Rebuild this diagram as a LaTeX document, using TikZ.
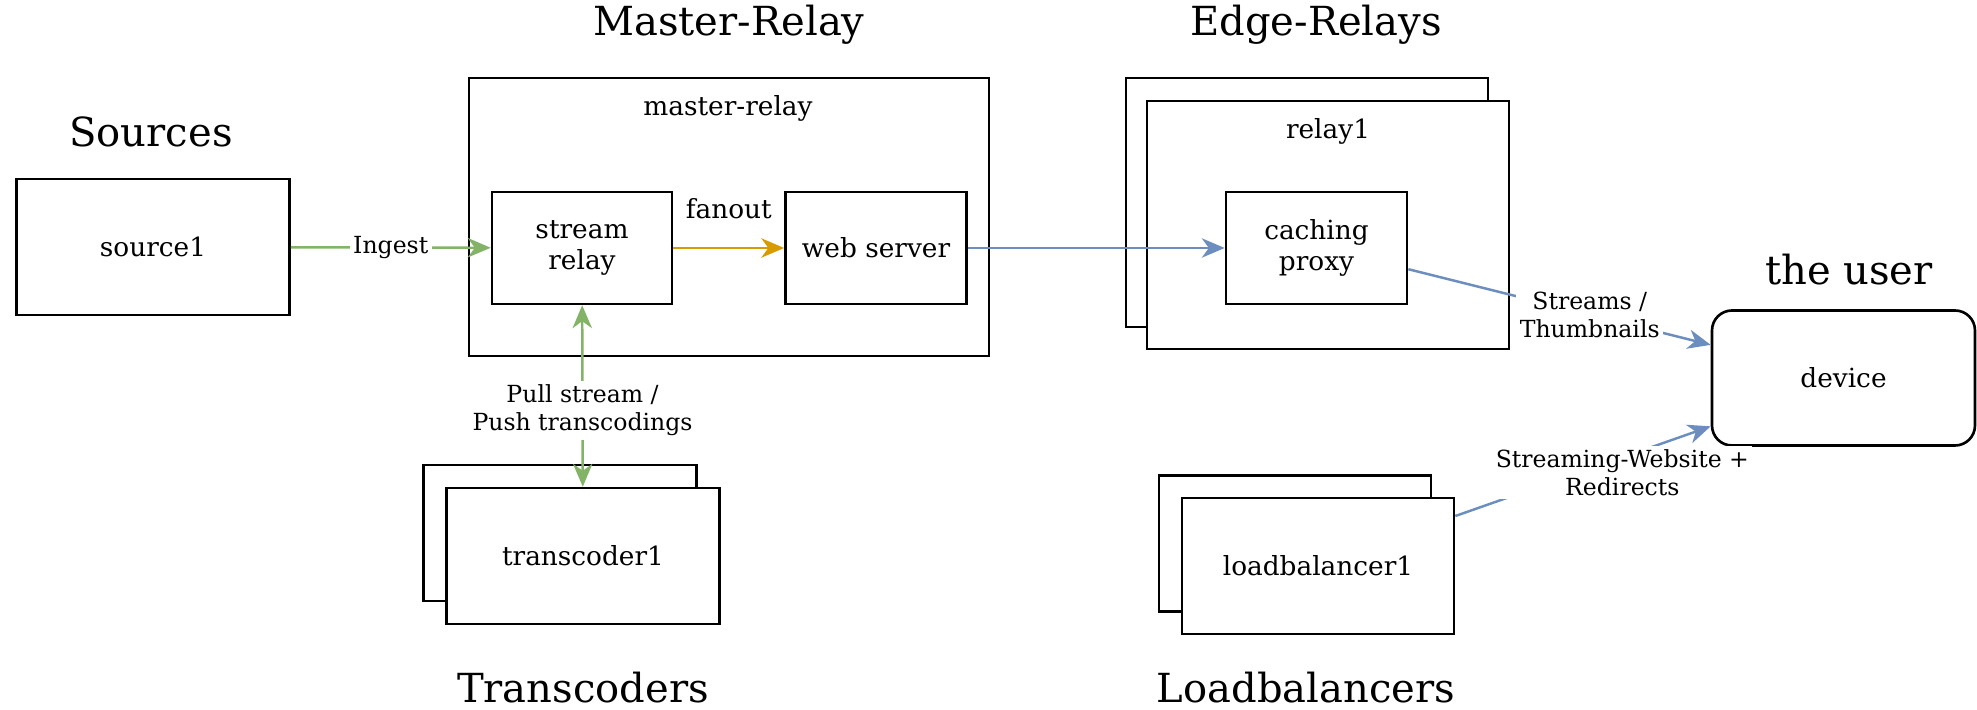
\documentclass[tikz,border=0pt]{standalone}
\usepackage{fontspec}
\setmainfont{DejaVu Serif}
\usetikzlibrary{arrows.meta, shapes, positioning}

\definecolor{ingestgreen}{HTML}{82B366}
\definecolor{fanoutorange}{HTML}{D79B00}
\definecolor{streamblue}{HTML}{6C8EBF}

\begin{document}
\begin{tikzpicture}[
        box/.style={draw, fill=white, line width=0.75pt, align=center, inner sep=0pt,
            font=\fontsize{7.5}{9}\selectfont},
        title/.style={inner sep=0pt, font=\fontsize{11.4}{13}\selectfont},
        lbl/.style={fill=white, inner sep=1pt, align=center,
            font=\fontsize{6.7}{8}\selectfont},
        tip/.style={-{Stealth[length=6.5pt, width=5.5pt, inset=2pt]}},
        flow/.style={line width=0.7pt, tip}
    ]
            \useasboundingbox (0,0) rectangle (19.77,7.10);

            % group titles
            \node[title] (sources title) at (1.51, 5.78) {Sources};
            \node[title] (master title) at (7.29, 6.85) {Master-Relay};
            \node[title] (edge title) at (13.16, 6.85) {Edge-Relays};
            \node[title] (user title) at (18.49, 4.40) {the user};
            \node[title] (transcoders title) at (5.83, 0.22) {Transcoders};
            \node[title] (lb title) at (13.06, 0.22) {Loadbalancers};

            \node[box, minimum width=2.73cm, minimum height=1.36cm] (source) at (1.53, 4.63) {source1};

            \node[box, minimum width=5.20cm, minimum height=2.78cm] (master) at (7.29, 4.93) {};
            \node[font=\fontsize{7.5}{9}\selectfont] (master label) at (7.28, 6.02) {master-relay};
            \node[box, minimum width=1.80cm, minimum height=1.12cm] (streamrelay) at (5.82, 4.62) {stream\\relay};
            \node[box, minimum width=1.81cm, minimum height=1.12cm] (webserver) at (8.76, 4.62) {web server};

            \node[box, minimum width=3.62cm, minimum height=2.49cm] (relay back) at (13.07, 5.075) {};
            \node[box, minimum width=3.62cm, minimum height=2.48cm] (relay) at (13.28, 4.85) {};
            \node[font=\fontsize{7.5}{9}\selectfont] (relay label) at (13.28, 5.79) {relay1};
            \node[box, minimum width=1.81cm, minimum height=1.12cm] (proxy) at (13.165, 4.62) {caching\\proxy};

            \node[box, rounded corners=0.2cm, minimum width=2.63cm, minimum height=1.35cm] (device) at (18.435, 3.32) {device};

            \node[box, minimum width=2.73cm, minimum height=1.36cm] (transcoder back) at (5.60, 1.77) {};
            \node[box, minimum width=2.73cm, minimum height=1.36cm] (transcoder) at (5.83, 1.54) {transcoder1};

            \node[box, minimum width=2.72cm, minimum height=1.36cm] (lb back) at (12.95, 1.665) {};
            \node[box, minimum width=2.72cm, minimum height=1.36cm] (lb) at (13.18, 1.44) {loadbalancer1};

            \draw[flow, ingestgreen] (source) -- node[lbl, text=black] {Ingest} (streamrelay);
            \draw[flow, fanoutorange] (streamrelay) -- node[midway, yshift=0.39cm, text=black,
                font=\fontsize{7.5}{9}\selectfont] {fanout} (webserver);
            \draw[line width=0.7pt, ingestgreen, {Stealth[length=6.5pt, width=5.5pt, inset=2pt]}-{Stealth[length=6.5pt, width=5.5pt, inset=2pt]}]
                (streamrelay) -- node[lbl, pos=0.58, text=black] {Pull stream /\\Push transcodings} (transcoder);
            \draw[flow, streamblue] (webserver) -- (proxy);
            \draw[flow, streamblue] (proxy.-13) -- node[lbl, pos=0.6, text=black] {Streams /\\Thumbnails} (device.166);
            \draw[flow, streamblue] (lb.20) -- node[lbl, pos=0.654, yshift=-0.15cm, text=black] {Streaming-Website +\\Redirects} (device.200);
        \end{tikzpicture}
\end{document}
